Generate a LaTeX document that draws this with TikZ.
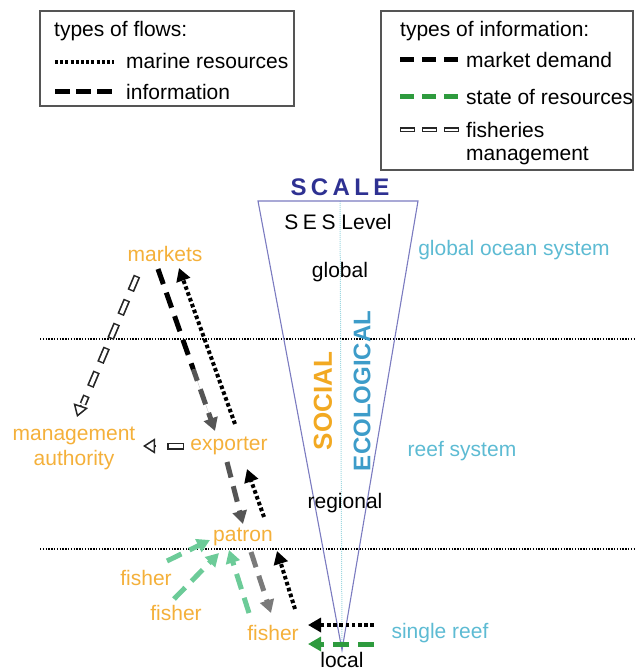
\documentclass[tikz,border=0pt]{standalone}
\usepackage{fontspec}
\setmainfont{Liberation Sans}
\usetikzlibrary{arrows.meta,calc}
\definecolor{orng}{HTML}{F4B03A}
\definecolor{socor}{HTML}{F2A922}
\definecolor{cyantxt}{HTML}{5DBBD3}
\definecolor{ecol}{HTML}{3D9CC9}
\definecolor{navy}{HTML}{2E3192}
\definecolor{trig}{HTML}{7B7BC0}
\definecolor{midline}{HTML}{9FD8E0}
\definecolor{lgreen}{HTML}{6CCB98}
\definecolor{dgreen}{HTML}{2E9B3E}
\definecolor{dgray}{HTML}{555555}
\definecolor{mgray}{HTML}{7A7A7A}
\begin{document}
\begin{tikzpicture}[x=1pt,y=-1pt,
  lbl/.style={font=\fontsize{21}{26}\selectfont, inner sep=1pt},
  actor/.style={lbl, text=orng},
  eco/.style={lbl, text=cyantxt},
  level/.style={lbl, text=black},
  legbox/.style={draw=dgray, line width=1.2pt},
  resflow/.style={draw=black, line width=4pt, dash pattern=on 3.6pt off 2.6pt, -{Triangle[length=13pt,width=14pt]}},
  resline/.style={draw=black, line width=4pt, dash pattern=on 3pt off 2.2pt},
  infoflow/.style={line width=5pt, dash pattern=on 16pt off 9pt, -{Triangle[length=13pt,width=14pt]}},
  infoline/.style={line width=5pt, dash pattern=on 16pt off 9pt},
  hollowdash/.style={draw=black!85, line width=7pt, dash pattern=on 16pt off 10pt,
     postaction={draw=white, line width=3.6pt, dash pattern=on 13pt off 13pt, dash phase=-1.5pt}},
  hollowtip/.style={draw=black!85, line width=1.5pt, -{Triangle[open,length=12pt,width=15pt]}},
  sepline/.style={draw=black, line width=2pt, dash pattern=on 1.4pt off 1.4pt}
]
\useasboundingbox (0,0) rectangle (635,671);

% ---------------- legends ----------------
\draw[legbox] (40,11) rectangle (294,106);
\node[lbl, anchor=west] (lt1) at (53,31) {types of flows:};
\node[lbl, anchor=west] (lt2) at (125,61) {marine resources};
\node[lbl, anchor=west] (lt3) at (125,92) {information};
\coordinate (s1a) at (55,62); \coordinate (s1b) at (114,62);
\coordinate (s2a) at (55,92); \coordinate (s2b) at (114,92);
\draw[resline] (s1a) -- (s1b);
\draw[infoline, draw=black, dash pattern=on 15pt off 6pt] (s2a) -- (s2b);

\draw[legbox] (381,11) rectangle (633,170);
\node[lbl, anchor=west] (rt1) at (399,31) {types of information:};
\node[lbl, anchor=west] (rt2) at (465,60) {market demand};
\node[lbl, anchor=west] (rt3) at (465,97) {state of resources};
\node[lbl, anchor=west] (rt4) at (465,130) {fisheries};
\node[lbl, anchor=west] (rt5) at (465,156) {management};
\coordinate (s3a) at (400,60); \coordinate (s3b) at (459,60);
\coordinate (s4a) at (400,97); \coordinate (s4b) at (459,97);
\coordinate (s5a) at (400,130); \coordinate (s5b) at (459,130);
\draw[infoline, draw=black, dash pattern=on 14pt off 8pt] (s3a) -- (s3b);
\draw[infoline, draw=dgreen, dash pattern=on 14pt off 8pt] (s4a) -- (s4b);
\draw[draw=black!85, line width=5pt, dash pattern=on 15pt off 7pt,
  postaction={draw=white, line width=2.4pt, dash pattern=on 13pt off 9pt, dash phase=-1pt}] (s5a) -- (s5b);

% ---------------- separators ----------------
\coordinate (h1a) at (40,339); \coordinate (h1b) at (635,339);
\coordinate (h2a) at (40,549); \coordinate (h2b) at (635,549);
\draw[sepline] (h1a) -- (h1b);
\draw[sepline] (h2a) -- (h2b);

% ---------------- scale triangle ----------------
\coordinate (tl) at (258,201);
\coordinate (tr) at (418,201);
\coordinate (tb) at (342,650);
\coordinate (mt) at (340,201);
\draw[midline, line width=1pt, dash pattern=on 1pt off 1pt] (mt) -- (tb);
\draw[trig, line width=1.1pt, line join=miter] (tl) -- (tr) -- (tb) -- cycle;
\node[font=\fontsize{24}{28}\selectfont\bfseries\addfontfeature{LetterSpace=18}, text=navy, inner sep=0pt] (scale) at (340,187) {SCALE};
\node[lbl] (ses) at (338,222) {{\addfontfeature{LetterSpace=22}SES} Level};
\node[level] (global) at (340,272) {global};
\node[level] (regional) at (345,503) {regional};
\node[level] (local) at (342,660) {local};
\node[font=\fontsize{26}{30}\selectfont\bfseries, text=socor, rotate=90, inner sep=0pt] (social) at (323,401) {SOCIAL};
\node[font=\fontsize{24}{28}\selectfont\bfseries, text=ecol, rotate=90, inner sep=0pt] (ecological) at (362,391) {ECOLOGICAL};

% ---------------- ecological labels ----------------
\node[eco] (gos) at (514,250) {global ocean system};
\node[eco] (reefsys) at (462,451) {reef system};
\node[eco] (single) at (440,633) {single reef};

% ---------------- actors ----------------
\node[actor] (markets) at (165,254) {markets};
\node[actor, align=center] (mgmt) at (74,448) {management\\[-1pt]authority};
\node[actor] (exporter) at (229,446) {exporter};
\node[actor] (patron) at (243,537) {patron};
\node[actor] (fisherA) at (146,578) {fisher};
\node[actor] (fisherB) at (176,613) {fisher};
\node[actor] (fisherC) at (273,633) {fisher};

% ---------------- fisheries management (hollow) ----------------
\draw[hollowdash] ($(markets)+(-28,22)$) -- ($(mgmt)+(9,-44)$);
\draw[hollowtip] ($(mgmt)+(7,-43)$) -- ($(mgmt)+(3,-31)$);
\draw[hollowdash, dash pattern=on 17pt off 10pt, postaction={draw=white, line width=3.6pt, dash pattern=on 14pt off 13pt, dash phase=-1.5pt}] ($(exporter)+(-45,0)$) -- ($(exporter)+(-62,0)$);
\draw[hollowtip] ($(exporter)+(-73,0)$) -- ($(exporter)+(-86,0)$);

% ---------------- market demand ----------------
\coordinate (md1) at ($(markets)+(-7,15)$);
\coordinate (md2) at ($(exporter)+(-14,-15)$);
\draw[infoline, draw=black] (md1) -- ($(md1)!0.62!(md2)$);
\draw[infoflow, draw=dgray, fill=dgray, dash phase=4pt] ($(md1)!0.62!(md2)$) -- (md2);
\draw[infoflow, draw=dgray] ($(exporter)+(-2,16)$) -- ($(patron)+(0,-13)$);
\draw[infoflow, draw=mgray] ($(patron)+(8,15)$) -- ($(fisherC)+(-2,-20)$);

% ---------------- marine resources ----------------
\draw[resflow] ($(exporter)+(6,-22)$) -- ($(markets)+(14,14)$);
\draw[resflow] ($(patron)+(21,-20)$) -- ($(exporter)+(18,23)$);
\draw[resflow] ($(fisherC)+(22,-24)$) -- ($(patron)+(34,14)$);
\draw[resflow] ($(single)+(-66,-8)$) -- ($(fisherC)+(35,-8)$);

% ---------------- state of resources ----------------
\draw[infoflow, draw=lgreen] ($(fisherA)+(21,-17)$) -- ($(patron)+(-33,3)$);
\draw[infoflow, draw=lgreen] ($(fisherB)+(-2,-14)$) -- ($(patron)+(-24,16)$);
\draw[infoflow, draw=lgreen] ($(fisherC)+(-24,-20)$) -- ($(patron)+(-14,13)$);
\draw[infoflow, draw=dgreen] ($(single)+(-66,11)$) -- ($(fisherC)+(35,11)$);
\end{tikzpicture}
\end{document}
